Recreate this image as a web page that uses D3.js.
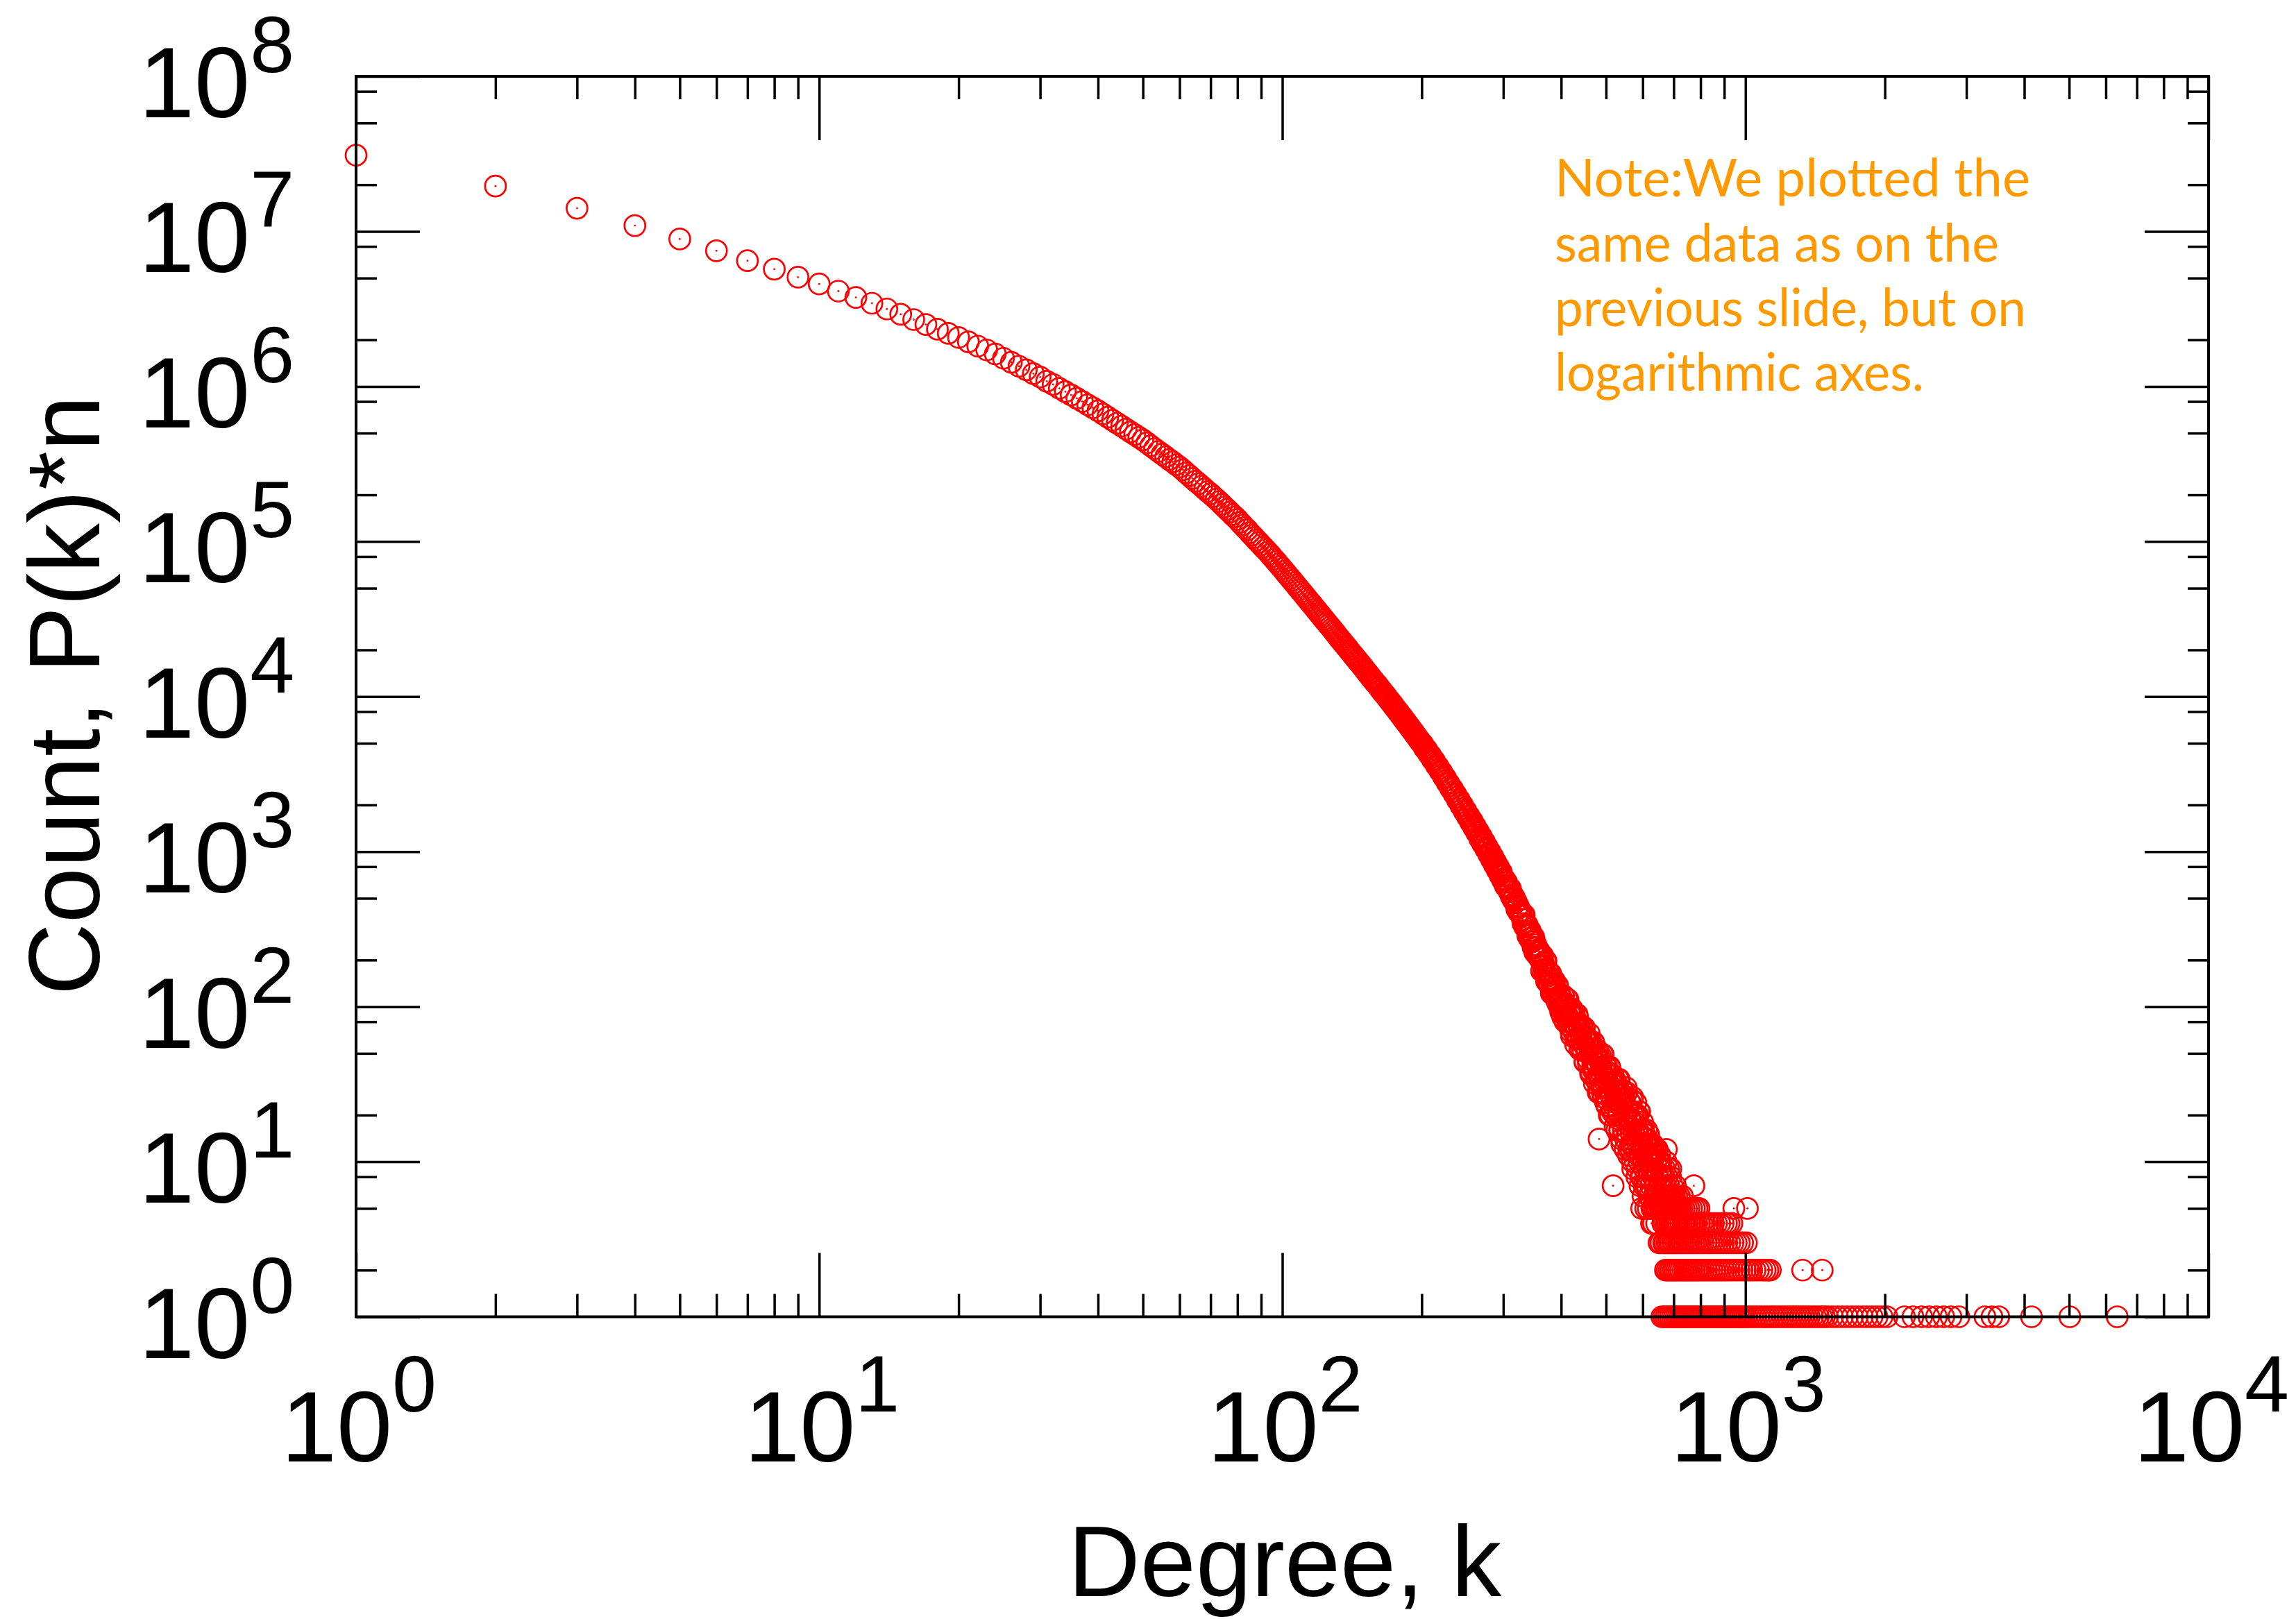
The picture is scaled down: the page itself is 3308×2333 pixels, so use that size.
<!DOCTYPE html>
<html><head><meta charset="utf-8">
<script src="https://cdn.jsdelivr.net/npm/d3@7"></script>
<style>html,body{margin:0;padding:0;background:#fff;}svg{display:block;}</style>
</head><body>
<svg id="chart" width="3308" height="2333"></svg>
<script>
// ---- data ----
const smoothDegrees = [1,2,3,4,5,6,7,8,9,10,11,12,13,14,15,16,17,18,19,20,21,22,23,24,25,26,27,28,29,30,31,32,33,34,35,36,37,38,39,40,41,42,43,44,45,46,47,48,49,50,51,52,53,54,55,56,57,58,59,60,61,62,63,64,65,66,67,68,69,70,71,72,73,74,75,76,77,78,79,80,81,82,83,84,85,86,87,88,89,90,91,92,93,94,95,96,97,98,99,100];
const smoothCounts = [31000000,19600000,14100000,10900000,8930000,7500000,6470000,5710000,5070000,4580000,4120000,3750000,3440000,3160000,2920000,2700000,2510000,2340000,2200000,2070000,1940000,1820000,1720000,1620000,1520000,1430000,1350000,1280000,1210000,1150000,1080000,1030000,973000,925000,881000,839000,800000,762000,728000,697000,664000,634000,605000,579000,555000,531000,509000,490000,470000,452000,433000,414000,397000,381000,366000,352000,338000,326000,313000,302000,290000,277000,266000,255000,245000,236000,227000,218000,210000,203000,195000,188000,181000,174000,167000,161000,155000,149000,144000,139000,133000,128000,123000,119000,114000,110000,106000,102000,98700,95100,91800,88700,85700,82800,79800,76900,74300,71600,69200,66800];

const bandDegrees = [102,104,106,108,110,112,114,116,118,120,122,124,126,128,130,132,134,136,138,140,142,144,146,148,150,152,154,156,158,160,162,164,166,168,170,172,174,176,178,180,182,184,186,188,190,192,194,196,198,200,202,204,206,208,210,212,214,216,218,220,222,224,226,228,230,232,234,236,238,240,242,244,246,248,250,252,254,256,258,260,262,264,266,268,270,272,274,276,278,280,282,284,286,288,290,292,294,296,298,300];
const bandCounts = [62200,58000,54200,50600,47400,44400,41600,39100,36700,34500,32500,30600,28900,27300,25800,24300,23000,21800,20700,19600,18600,17700,16800,16000,15200,14500,13800,13100,12500,12000,11400,10900,10400,9950,9500,9090,8690,8310,7960,7610,7290,6980,6690,6410,6140,5890,5650,5410,5190,4990,4780,4590,4400,4220,4050,3880,3720,3570,3420,3280,3140,3010,2880,2760,2650,2540,2440,2340,2240,2150,2070,1980,1900,1830,1760,1690,1620,1560,1500,1440,1390,1330,1280,1230,1180,1140,1100,1050,1020,976,941,905,871,838,807,777,749,721,695,670];

const bandOddDegrees = [101,103,105,107,109,111,113,115,117,119,121,123,125,127,129,131,133,135,137,139,141,143,145,147,149,151,153,155,157,159,161,163,165,167,169,171,173,175,177,179,181,183,185,187,189,191,193,195,197,199,201,203,205,207,209,211,213,215,217,219,221,223,225,227,229,231,233,235,237,239,241,243,245,247,249,251,253,255,257,259,261,263,265,267,269,271,273,275,277,279,281,283,285,287,289,291,293,295,297,299];
const bandOddCounts = [64400,60100,56100,52400,49000,45900,43000,40300,37900,35600,33500,31500,29700,28100,26500,25000,23600,22400,21200,20100,19100,18100,17200,16400,15600,14800,14100,13400,12800,12200,11700,11100,10600,10200,9720,9290,8890,8500,8130,7780,7450,7130,6830,6550,6270,6010,5770,5530,5300,5090,4930,4630,4540,4270,4180,3920,3850,3600,3540,3310,3260,3030,2990,2780,2750,2550,2540,2350,2340,2150,2160,1980,1990,1820,1840,1680,1700,1550,1580,1430,1460,1320,1350,1210,1250,1120,1160,1040,1070,962,995,890,925,822,856,762,795,706,738,655];

const noisyDegrees = [302,304,306,308,310,312,314,316,318,320,322,324,326,328,330,332,334,336,338,340,342,344,346,348,350,352,354,356,358,360,362,364,366,368,370,372,374,376,378,380,382,384,386,388,390,392,394,396,398,400,402,404,406,408,410,412,414,416,418,420,422,424,426,428,430,432,434,436,438,440,442,444,446,448,450,452,454,456,458,460,462,464,466,468,470,472,474,476,478,480,482,484,486,488,490,492,494,496,498,500,502,504,506,508,510,512,514,516,518,520,522,524,526,528,530,532,534,536,538,540,542,544,546,548,550,552,554,556,558,560,562,564,566,568,570,572,574,576,578,580,582,584,586,588,590,592,594,596,598,600,602,604,606,608,610,612,614,616,618,620,622,624,626,628,630,632,634,636,638,640,642,644,646,648,650,652,654,656,658,660];
const noisyCounts = [662,601,604,570,578,515,527,502,468,475,437,407,414,394,366,389,326,331,336,296,275,296,276,241,270,240,240,214,230,203,218,173,192,173,197,146,171,158,139,163,137,120,141,132,114,136,104,111,118,98,95,118,102,80,103,88,111,76,91,69,97,77,70,86,57,74,86,62,74,53,62,75,52,63,44,65,51,59,43,67,58,38,50,42,59,32,48,43,33,52,36,28,44,40,30,49,26,33,42,27,23,38,32,20,40,27,32,21,36,23,20,33,25,16,27,21,34,16,24,14,29,19,16,25,12,20,28,15,22,12,17,24,12,18,10,21,13,18,10,24,19,9,15,11,21,7,15,13,8,18,10,7,15,13,8,16,7,10,15,8,6,13,10,5,13,8,11,6,11,7,6,12,8,5,10,7,11,5,9,5];

const noisyOddDegrees = [301,303,305,307,309,311,313,315,317,319,321,323,325,327,329,331,333,335,337,339,341,343,345,347,349,351,353,355,357,359,361,363,365,367,369,371,373,375,377,379,381,383,385,387,389,391,393,395,397,399,401,403,405,407,409,411,413,415,417,419,421,423,425,427,429,431,433,435,437,439,441,443,445,447,449,451,453,455,457,459,461,463,465,467,469,471,473,475,477,479,481,483,485,487,489,491,493,495,497,499,501,503,505,507,509,511,513,515,517,519,521,523,525,527,529,531,533,535,537,539,541,543,545,547,549,551,553,555,557,559,561,563,565,567,569,571,573,575,577,579,581,583,585,587,589,591,593,595,597,599,601,603,605,607,609,611,613,615,617,619,621,623,625,627,629,631,633,635,637,639,641,643,645,647,649,651,653,655,657,659];
const noisyOddCounts = [669,601,635,588,551,576,521,489,504,475,425,447,405,416,383,344,390,327,338,287,306,309,263,263,281,224,250,228,211,226,215,170,213,183,163,197,160,142,166,153,122,152,125,147,127,110,137,108,116,93,113,86,117,98,86,113,87,76,96,88,65,91,70,91,75,62,89,63,74,53,67,74,53,57,73,44,63,53,46,60,54,37,58,46,39,58,40,34,48,43,28,47,33,48,37,28,49,30,38,24,34,40,25,28,41,20,34,27,22,33,29,17,33,24,19,34,20,16,27,23,13,27,16,28,20,14,30,15,21,11,19,24,13,15,25,9,20,15,12,20,16,8,20,13,10,21,11,8,16,13,6,16,9,14,11,7,14,9,13,6,11,11,7,9,12,5,12,9,7,12,10,5,12,8,6,10,7,5,10,8];

const outlierDegrees = [483,518,571,675,690,774,944,1010];
const outlierCounts = [14,7,26,12,9,7,5,5];

// low-count rows: the count, and the degrees at which it occurs
const rowCounts = [10,9,8,7,6,5,4,3,2,1];
const rowDegrees = [
  [674],
  [669,682],
  [666,677,689],
  [663,672,683,695,706],
  [664,668,673,679,684,690,697,703,711,720,731],
  [597,609,617,637,665,671,676,682,688,694,700,707,714,722,729,737,746,755,765,776,786,794],
  [627,633,643,663,667,674,680,686,692,699,705,712,719,726,734,742,750,758,767,776,785,795,805,816,828,840,853,866,880,895,910,922,935],
  [651,657,666,670,677,683,689,696,702,709,716,724,731,739,748,756,764,773,782,792,801,811,822,833,845,857,870,883,897,911,925,940,955,970,986,1005],
  [672,678,685,691,698,704,711,718,725,733,741,749,757,766,775,784,793,803,813,824,835,846,858,870,883,896,909,923,937,952,967,983,999,1015,1032,1049,1067,1085,1103,1118,1132,1329,1465],
  [660,667,674,681,688,695,702,709,716,723,730,737,745,752,760,768,775,783,791,799,807,815,823,831,840,848,857,865,874,883,892,901,910,919,928,937,947,956,966,975,985,995,1005,1020,1035,1051,1067,1083,1099,1115,1132,1149,1166,1184,1202,1220,1238,1257,1276,1295,1314,1334,1354,1374,1395,1416,1437,1459,1481,1503,1541,1579,1619,1659,1701,1743,1787,1831,1877,1924,1972,2021,2205,2300,2402,2490,2585,2680,2779,2890,3290,3406,3524,4147,5017,6350]
];

const xTickValues = [1,10,100,1000,10000];
const xTickExponents = ['0','1','2','3','4'];
const yTickValues = [1,10,100,1000,10000,100000,1000000,10000000,100000000];
const yTickExponents = ['0','1','2','3','4','5','6','7','8'];
const xMinorMultipliers = [2,3,4,5,6,7,8,9];
const yMinorMultipliers = [2,5,8];
const xTitle = 'Degree, k';
const yTitle = 'Count, P(k)*n';
const noteLines = ['Note:We plotted the','same data as on the','previous slide, but on','logarithmic axes.'];

// ---- drawing ----
const W = 3308, H = 2333;
const L = 513, R = 3182, T = 110, B = 1897.5;
const svg = d3.select('#chart');
svg.append('rect').attr('width', W).attr('height', H).attr('fill', '#fff');

const x = d3.scaleLog().domain([1, 1e4]).range([L, R]);
const y = d3.scaleLog().domain([1, 1e8]).range([B, T]);

const points = [];
smoothDegrees.forEach((k, i) => points.push([k, smoothCounts[i]]));
bandDegrees.forEach((k, i) => points.push([k, bandCounts[i]]));
bandOddDegrees.forEach((k, i) => points.push([k, bandOddCounts[i]]));
noisyDegrees.forEach((k, i) => points.push([k, noisyCounts[i]]));
noisyOddDegrees.forEach((k, i) => points.push([k, noisyOddCounts[i]]));
outlierDegrees.forEach((k, i) => points.push([k, outlierCounts[i]]));
rowDegrees.forEach((arr, j) => arr.forEach(k => points.push([k, rowCounts[j]])));

const pg = svg.append('g');
pg.selectAll('circle.ring').data(points).join('circle')
  .attr('class', 'ring')
  .attr('cx', d => x(d[0])).attr('cy', d => y(d[1]))
  .attr('r', 15).attr('fill', 'none')
  .attr('stroke', '#ff0000').attr('stroke-width', 2.7);
pg.selectAll('circle.dot').data(points).join('circle')
  .attr('class', 'dot')
  .attr('cx', d => x(d[0])).attr('cy', d => y(d[1]))
  .attr('r', 1.4).attr('fill', '#ff0000');

// minor tick values
const xMinor = [];
xTickValues.slice(0, -1).forEach(d => xMinorMultipliers.forEach(m => xMinor.push(d * m)));
const yMinor = [];
yTickValues.slice(0, -1).forEach(d => yMinorMultipliers.forEach(m => yMinor.push(d * m)));

function drawAxis(gen, tx, ty, values, size, sw) {
  const a = svg.append('g').attr('transform', `translate(${tx},${ty})`)
    .call(gen.tickValues(values).tickSize(size).tickFormat(''));
  a.select('.domain').remove();
  a.selectAll('text').remove();
  a.selectAll('line').attr('stroke', '#000').attr('stroke-width', sw);
}
const MAJ = -92, MIN_X = -33, MIN_Y = -30;
drawAxis(d3.axisBottom(x), 0, B, xTickValues, MAJ, 3.5);
drawAxis(d3.axisBottom(x), 0, B, xMinor, MIN_X, 3.5);
drawAxis(d3.axisTop(x), 0, T, xTickValues, MAJ, 3.5);
drawAxis(d3.axisTop(x), 0, T, xMinor, MIN_X, 3.5);
drawAxis(d3.axisLeft(y), L, 0, yTickValues, MAJ, 3.5);
drawAxis(d3.axisLeft(y), L, 0, yMinor, MIN_Y, 3.5);
drawAxis(d3.axisRight(y), R, 0, yTickValues, MAJ, 3.5);
drawAxis(d3.axisRight(y), R, 0, yMinor, MIN_Y, 3.5);

svg.append('rect').attr('x', L).attr('y', T).attr('width', R - L).attr('height', B - T)
  .attr('fill', 'none').attr('stroke', '#000').attr('stroke-width', 4);

const FONT = '"Liberation Sans", Arial, Helvetica, sans-serif';

// y tick labels
yTickValues.forEach((v, i) => {
  const t = svg.append('text').attr('x', 200).attr('y', y(v) + 59)
    .attr('font-family', FONT).attr('font-size', 144).attr('fill', '#000');
  t.append('tspan').text('10');
  t.append('tspan').attr('dy', -65).attr('font-size', 115).text(yTickExponents[i]);
});
// x tick labels
xTickValues.forEach((v, i) => {
  const t = svg.append('text').attr('x', x(v) + 4).attr('y', 2106)
    .attr('text-anchor', 'middle')
    .attr('font-family', FONT).attr('font-size', 144).attr('fill', '#000');
  t.append('tspan').text('10');
  t.append('tspan').attr('dy', -72).attr('font-size', 115).text(xTickExponents[i]);
});

svg.append('text').attr('x', 1851).attr('y', 2300).attr('text-anchor', 'middle')
  .attr('font-family', FONT).attr('font-size', 144).attr('fill', '#000').text(xTitle);
svg.append('text').attr('transform', 'translate(143,1002) rotate(-90)').attr('text-anchor', 'middle')
  .attr('font-family', FONT).attr('font-size', 144).attr('fill', '#000').text(yTitle);

// note
const noteBase = [283, 377, 470, 563];
const noteWidth = [685, 640, 679, 532];
noteLines.forEach((s, i) => {
  svg.append('text').attr('x', 2240).attr('y', noteBase[i])
    .attr('font-family', 'Lato, "Open Sans", sans-serif').attr('font-size', 76)
    .attr('fill', '#ff9900')
    .attr('textLength', noteWidth[i]).attr('lengthAdjust', 'spacingAndGlyphs')
    .text(s);
});
</script>
</body></html>
